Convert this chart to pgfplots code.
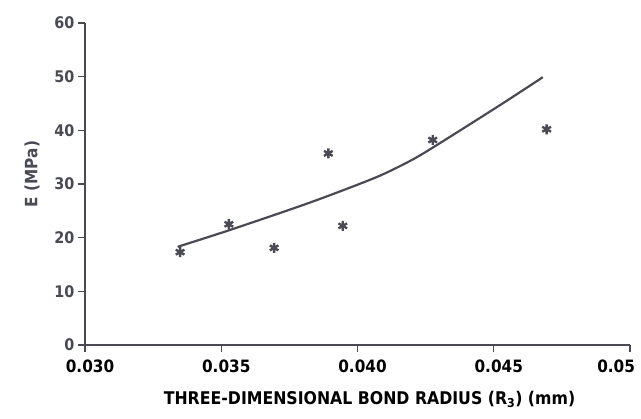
\documentclass[border=0pt]{standalone}
\usepackage{pgfplots}
\pgfplotsset{compat=1.18}
\usepackage{fontspec}
\setmainfont{Liberation Sans}
\newfontfamily\cond{DejaVu Sans Condensed}
\definecolor{ink}{HTML}{4A4A55}
\begin{document}
\begin{tikzpicture}
\useasboundingbox (-85pt,-74pt) rectangle (556pt,345pt);
\begin{axis}[
  at={(0pt,0pt)}, anchor=south west,
  scale only axis, width=545pt, height=322pt,
  xmin=0.030, xmax=0.050, ymin=0, ymax=60,
  scaled x ticks=false,
  axis lines*=left,
  axis line style={ink, line width=1.4pt},
  tick style={ink, line width=1.4pt},
  tick align=outside,
  major tick length=7pt,
  xtick={0.030,0.035,0.040,0.045,0.050},
  xticklabels={0.030,0.035,0.040,0.045,\makebox[0pt][r]{0.05}},
  ytick={0,10,20,30,40,50,60},
  /pgf/number format/assume math mode=true,
  x tick label style={font=\cond\fontsize{17}{20}\selectfont\bfseries, text=black, yshift=-4pt, xshift=5pt},
  y tick label style={font=\cond\fontsize{16}{19}\selectfont\bfseries, text=ink},
  xlabel={THREE-DIMENSIONAL BOND RADIUS (R\textsubscript{3}) (mm)},
  ylabel={E (MPa)},
  xlabel style={font=\cond\fontsize{17.5}{20}\selectfont\bfseries, text=black, yshift=-12pt, xshift=12pt},
  ylabel style={font=\cond\fontsize{17}{20}\selectfont\bfseries, text=ink, yshift=8pt, xshift=10pt},
  clip=false,
]
\addplot[ink, line width=2.2pt, smooth, tension=0.5] coordinates {
(0.0334,18.3) (0.0353,21.4) (0.0379,25.9) (0.0394,28.7) (0.0408,31.5) (0.04193,34.3)
(0.0428,36.9) (0.0452,44.6) (0.0468,49.9)
};
\addplot[only marks, mark=asterisk, mark size=5pt, ink, line width=2.4pt] coordinates {
(0.03349,17.3) (0.03528,22.5) (0.03694,18.1) (0.03893,35.7)
(0.03946,22.2) (0.04276,38.2) (0.04694,40.2)
};
\end{axis}
\end{tikzpicture}
\end{document}
